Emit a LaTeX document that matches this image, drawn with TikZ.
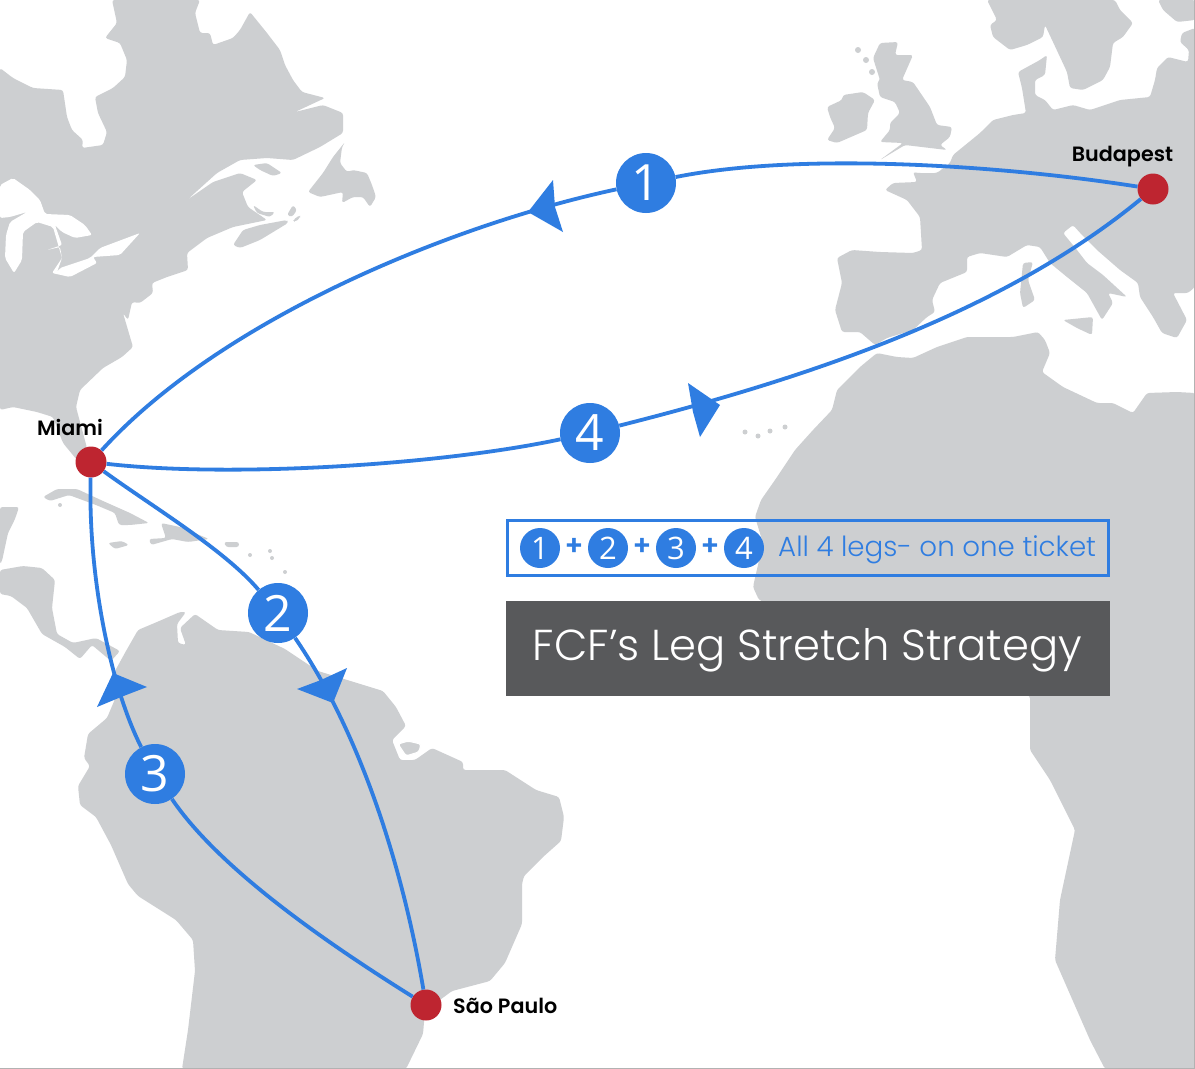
\documentclass[tikz,border=0pt]{standalone}
\usepackage{fontspec}
\setmainfont{Open Sans}
\newfontfamily\poplight{Poppins Light}
\newfontfamily\popsemi{Poppins SemiBold}
\definecolor{landgray}{HTML}{CDCFD1}
\definecolor{legblue}{HTML}{2F7DE1}
\definecolor{citydot}{HTML}{BE2530}
\definecolor{bannergray}{HTML}{58595B}
\begin{document}
\begin{tikzpicture}[x=1pt,y=-1pt]
        \tikzstyle{land} = [fill = landgray, draw = none, rounded corners = 2.5pt]
        \tikzstyle{lake} = [fill = white, draw = none, rounded corners = 2pt]
        \tikzstyle{leg} = [draw = legblue, line width = 3.8pt]
        \tikzstyle{legtip} = [fill = legblue, draw = none]
        \tikzstyle{city} = [shape = circle, fill = citydot, minimum size = 31pt, inner sep = 0pt]
        \tikzstyle{citylabel} = [font = \popsemi\fontsize{20.7}{21}\selectfont, inner sep = 0pt]
        \tikzstyle{legnum} = [shape = circle, fill = legblue, text = white, minimum size = 60pt, inner sep = 0pt, font = \fontsize{50}{50}\selectfont]
        \tikzstyle{keynum} = [shape = circle, fill = legblue, text = white, minimum size = 40pt, inner sep = 0pt, font = \fontsize{31}{31}\selectfont]
        \tikzstyle{keyplus} = [text = legblue, inner sep = 0pt, font = \popsemi\fontsize{28}{28}\selectfont]
        \useasboundingbox (0,0) rectangle (1195,1069);
        \fill[white] (0,0) rectangle (1195,1069);
        % north america
        \fill[land] (112,0) -- (200,0) -- (195,13) -- (200,33) -- (210,33) -- (213,45) -- (233,38) -- (240,30) -- (250,12) -- (267,33) -- (280,50) -- (285,65) -- (293,80) -- (302,92) -- (325,98) -- (295,112) -- (323,105) -- (343,113) -- (343,133) -- (320,147) -- (293,160) -- (267,158) -- (240,160) -- (217,173) -- (187,200) -- (213,182) -- (240,173) -- (257,180) -- (242,192) -- (248,207) -- (267,220) -- (233,227) -- (207,238) -- (187,253) -- (188,270) -- (167,277) -- (152,283) -- (153,293) -- (140,303) -- (132,302) -- (128,320) -- (123,313) -- (133,347) -- (122,357) -- (103,368) -- (80,390) -- (76,407) -- (87,448) -- (77,460) -- (63,443) -- (53,417) -- (37,412) -- (13,407) -- (0,410) -- (0,68) -- (13,78) -- (33,88) -- (63,90) -- (67,117) -- (72,130) -- (83,140) -- (82,148) -- (103,145) -- (107,132) -- (98,113) -- (95,97) -- (113,88) -- (125,77) -- (127,60) -- (120,43) -- (105,38) -- (117,23) -- cycle;
        \fill[lake] (0,185) -- (13,178) -- (30,190) -- (40,200) -- (45,214) -- (70,215) -- (85,225) -- (92,235) -- (75,238) -- (62,232) -- (55,225) -- (62,245) -- (47,250) -- (60,247) -- (62,258) -- (52,273) -- (70,277) -- (97,263) -- (93,257) -- (120,255) -- (140,233) -- (100,248) -- (90,258) -- (60,268) -- (57,272) -- (62,258) -- (53,227) -- (37,222) -- (23,232) -- (22,260) -- (14,273) -- (5,258) -- (6,235) -- (10,222) -- (27,212) -- (10,217) -- (0,218) -- cycle;
        \fill[land] (345,142) -- (333,157) -- (323,173) -- (308,192) -- (320,197) -- (343,192) -- (342,203) -- (353,197) -- (363,197) -- (370,207) -- (376,197) -- (372,185) -- (367,173) -- (353,170) -- (347,172) -- (340,163) -- (342,147) -- cycle;
        \fill[land] (233,245) -- (243,230) -- (260,225) -- (287,220) -- (288,223) -- (260,240) -- (240,248) -- cycle;
        \fill[land] (287,215) -- (293,205) -- (297,210) -- (292,217) -- cycle;
        \fill[land] (293,220) -- (300,215) -- (300,218) -- (295,222) -- cycle;
        \fill[land] (253,165) -- (267,163) -- (282,173) -- (273,176) -- (260,170) -- cycle;
        \fill[land] (253,205) -- (263,212) -- (275,212) -- (270,217) -- (257,213) -- cycle;
        % caribbean and central america
        \fill[land] (43,497) -- (57,489) -- (77,489) -- (103,501) -- (130,513) -- (149,523) -- (130,525) -- (119,525) -- (115,513) -- (96,505) -- (69,495) -- (50,501) -- cycle;
        \fill[land] (161,523) -- (180,527) -- (209,539) -- (188,542) -- (172,539) -- (151,545) -- (149,539) -- (166,538) -- cycle;
        \fill[land] (108,543) -- (122,541) -- (129,545) -- (115,549) -- cycle;
        \fill[land] (224,542) -- (239,542) -- (239,547) -- (226,547) -- cycle;
        \fill[land] (0,507) -- (19,507) -- (15,519) -- (8,533) -- (2,561) -- (0,564) -- cycle;
        \fill[land] (0,570) -- (23,566) -- (42,568) -- (55,580) -- (52,608) -- (57,634) -- (73,643) -- (96,638) -- (120,651) -- (111,661) -- (92,645) -- (80,659) -- (65,647) -- (42,634) -- (27,608) -- (11,596) -- (0,594) -- cycle;
        \foreach \ix/\iy in {250/555, 270/551, 272/558, 285/572, 60/505}
          \fill[land] (\ix,\iy) circle (2pt);
        % south america
        \fill[land] (115,671) -- (126,651) -- (138,630) -- (157,622) -- (180,612) -- (186,612) -- (177,624) -- (178,643) -- (186,645) -- (180,628) -- (195,614) -- (218,630) -- (249,632) -- (285,649) -- (318,671) -- (344,679) -- (383,691) -- (396,707) -- (406,726) -- (392,740) -- (400,760) -- (415,760) -- (432,748) -- (463,762) -- (463,770) -- (505,770) -- (536,790) -- (559,797) -- (564,817) -- (561,841) -- (543,857) -- (524,876) -- (522,884) -- (522,924) -- (505,963) -- (490,981) -- (452,991) -- (425,1011) -- (423,1034) -- (406,1069) -- (182,1069) -- (188,1030) -- (195,971) -- (193,940) -- (176,920) -- (138,896) -- (128,884) -- (111,845) -- (96,817) -- (80,805) -- (78,786) -- (90,766) -- (84,758) -- (88,734) -- (107,718) -- (115,699) -- cycle;
        \fill[land, draw = white, line width = 1.2pt] (398,744) -- (408,741) -- (421,744) -- (419,752) -- (406,756) -- cycle;
        % europe
        \fill[land] (987,0) -- (1115,0) -- (1120,10) -- (1133,23) -- (1123,37) -- (1113,43) -- (1110,67) -- (1103,80) -- (1083,90) -- (1070,88) -- (1067,72) -- (1053,42) -- (1045,25) -- (1043,37) -- (1027,45) -- (1010,50) -- (993,37) -- (990,25) -- (997,20) -- cycle;
        \fill[land] (1158,0) -- (1195,0) -- (1195,20) -- (1177,22) -- (1163,10) -- cycle;
        \fill[land] (1195,28) -- (1182,33) -- (1180,42) -- (1189,50) -- (1188,62) -- (1168,57) -- (1157,68) -- (1155,80) -- (1150,97) -- (1120,100) -- (1090,110) -- (1073,105) -- (1053,110) -- (1045,100) -- (1035,95) -- (1035,80) -- (1045,75) -- (1047,55) -- (1040,60) -- (1018,72) -- (1022,88) -- (1026,113) -- (1013,115) -- (993,120) -- (980,133) -- (953,155) -- (950,163) -- (937,173) -- (918,173) -- (913,172) -- (917,182) -- (893,183) -- (885,190) -- (907,200) -- (920,217) -- (922,250) -- (913,253) -- (880,252) -- (852,250) -- (837,258) -- (842,283) -- (835,310) -- (842,332) -- (860,332) -- (875,345) -- (887,338) -- (913,330) -- (927,317) -- (935,312) -- (932,300) -- (940,283) -- (967,272) -- (967,257) -- (980,253) -- (1007,257) -- (1027,245) -- (1040,247) -- (1050,263) -- (1067,277) -- (1087,293) -- (1102,320) -- (1113,303) -- (1108,293) -- (1127,297) -- (1103,275) -- (1087,263) -- (1077,250) -- (1063,233) -- (1073,225) -- (1082,235) -- (1097,250) -- (1120,270) -- (1138,283) -- (1140,297) -- (1153,317) -- (1162,333) -- (1177,338) -- (1187,320) -- (1173,293) -- (1188,293) -- (1195,287) -- cycle;
        \fill[land] (1063,320) -- (1093,317) -- (1092,335) -- (1077,328) -- cycle;
        \fill[land] (1023,263) -- (1033,262) -- (1028,280) -- (1035,300) -- (1023,308) -- (1020,293) -- cycle;
        \fill[land] (827,107) -- (842,100) -- (843,95) -- (863,92) -- (875,100) -- (868,113) -- (867,130) -- (837,143) -- (827,140) -- (835,128) -- (830,117) -- cycle;
        \fill[land] (873,58) -- (880,43) -- (898,42) -- (895,55) -- (913,55) -- (902,80) -- (913,82) -- (930,107) -- (937,125) -- (952,127) -- (950,137) -- (940,145) -- (947,150) -- (905,145) -- (880,160) -- (903,143) -- (880,142) -- (890,130) -- (890,123) -- (900,113) -- (895,102) -- (880,97) -- (877,83) -- (880,80) -- cycle;
        \foreach \ix/\iy in {858/50, 866/60, 872/72}
          \fill[land] (\ix,\iy) circle (3pt);
        % africa
        \fill[land] (1195,393) -- (1177,392) -- (1147,393) -- (1133,413) -- (1113,403) -- (1097,403) -- (1063,387) -- (1042,372) -- (1050,353) -- (1045,340) -- (1038,332) -- (1013,337) -- (967,337) -- (937,347) -- (913,358) -- (897,357) -- (877,353) -- (860,367) -- (837,390) -- (832,410) -- (813,430) -- (795,450) -- (775,480) -- (761,500) -- (755,517) -- (763,543) -- (755,578) -- (753,587) -- (759,600) -- (1030,696) -- (1030,750) -- (1050,780) -- (1075,830) -- (1060,900) -- (1055,960) -- (1090,1040) -- (1105,1069) -- (1195,1069) -- cycle;
        \foreach \ix/\iy in {745/432, 758/436, 770/431, 785/427}
          \fill[land] (\ix,\iy) circle (2.5pt);
        \draw[black!30, line width = 0.8pt] (0,1068.6) -- (1194.6,1068.6) -- (1194.6,0);
        % key and title
        \node[draw = legblue, line width = 3pt, minimum width = 601pt, minimum height = 55pt, inner sep = 0pt] (keybox) at (807.5,548) {};
        \node[keynum] (key-1) at (540,548) {1};
        \node[keynum] (key-2) at (608,548) {2};
        \node[keynum] (key-3) at (676,548) {3};
        \node[keynum] (key-4) at (744,548) {4};
        \node[keyplus] (plus-1) at (574,547) {+};
        \node[keyplus] (plus-2) at (642,547) {+};
        \node[keyplus] (plus-3) at (710,547) {+};
        \node[text = legblue, inner sep = 0pt, anchor = west, font = \poplight\fontsize{27.7}{28}\selectfont] (keytext) at (778,550) {All 4 legs- on one ticket};
        \node[fill = bannergray, minimum width = 604pt, minimum height = 95pt, inner sep = 0pt] (banner) at (807.5,648) {};
        \node[text = white, inner sep = 0pt, font = \poplight\fontsize{43.3}{44}\selectfont] (title) at (807.5,650) {FCF’s Leg Stretch Strategy};
        % cities and leg numbers
        \node[city] (miami) at (91,462) {};
        \node[city] (budapest) at (1153,189) {};
        \node[city] (saopaulo) at (426,1005) {};
        \node[citylabel] (miami-label) at (70,427) {Miami};
        \node[citylabel] (budapest-label) at (1122.5,157) {Budapest};
        \node[citylabel, anchor = west] (saopaulo-label) at (453,1006) {São Paulo};
        \node[legnum] (leg-1) at (646,183) {1};
        \node[legnum] (leg-2) at (278,613) {2};
        \node[legnum] (leg-3) at (155,774) {3};
        \node[legnum] (leg-4) at (590,433) {4};
        % legs
        \draw[leg] (budapest) .. controls (1000,165) and (800,152) .. (leg-1);
        \draw[leg] (leg-1) .. controls (450,225) and (220,320) .. (miami);
        \draw[leg] (miami) .. controls (150,505) and (225,550) .. (leg-2);
        \draw[leg] (leg-2) .. controls (365,740) and (405,880) .. (saopaulo);
        \draw[leg] (saopaulo) .. controls (330,945) and (220,870) .. (leg-3);
        \draw[leg] (leg-3) .. controls (112,690) and (88,580) .. (miami);
        \draw[leg] (miami) .. controls (230,478) and (440,465) .. (leg-4);
        \draw[leg] (leg-4) .. controls (800,380) and (1000,315) .. (budapest);
        % arrow heads
        \fill[legtip] (528,212) -- (553,180) -- (555,207) -- (563,232) -- cycle;
        \fill[legtip] (720,405) -- (688,383) -- (693,412) -- (700,437) -- cycle;
        \fill[legtip] (333,703) -- (297,689) -- (321,680) -- (347,668) -- cycle;
        \fill[legtip] (113,673) -- (147,687) -- (121,697) -- (97,707) -- cycle;
      \end{tikzpicture}
\end{document}
